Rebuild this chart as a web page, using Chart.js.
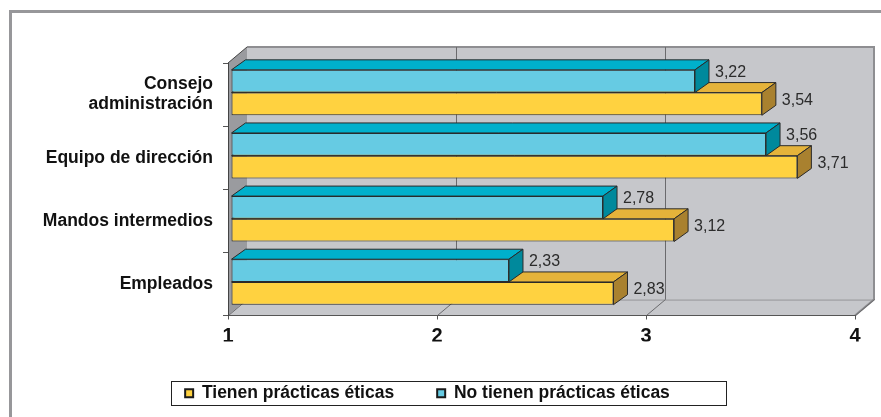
<!DOCTYPE html>
<html lang="es">
<head>
<meta charset="utf-8">
<title>Prácticas éticas por nivel</title>
<script src="https://cdn.jsdelivr.net/npm/chart.js@4.4.1/dist/chart.umd.min.js"></script>
<style>
  html, body { margin: 0; padding: 0; background: #fff; overflow: hidden; }
  #wrap { position: relative; width: 881px; height: 417px; }
  #marco { position: absolute; left: 9px; top: 10px; width: 900px; height: 430px;
           border-top: 3px solid #97979a; border-left: 3px solid #97979a; }
  canvas { position: absolute; left: 0; top: 0; }
</style>
</head>
<body>
<div id="wrap">
  <div id="marco"></div>
  <canvas id="grafico" width="881" height="417"></canvas>
</div>
<script>
  // ---- datos ----
  const categorias = [['Consejo', 'administración'], 'Equipo de dirección', 'Mandos intermedios', 'Empleados'];
  const tienen = [3.54, 3.71, 3.12, 2.83];
  const noTienen = [3.22, 3.56, 2.78, 2.33];
  const ticksX = [1, 2, 3, 4];

  const FUENTE = '"Liberation Sans", Arial, sans-serif';

  // colores: frente, tapa, lateral
  const CIAN = ['#66cbe3', '#00b0cc', '#00899c'];
  const AMARILLO = ['#ffd240', '#e5b33a', '#a9812f'];

  const FONDO = { dx: 19, dy: -16 };                // profundidad de paredes
  const BARRA = { dx: 14, dy: -10, sx: 3, sy: -2 }; // profundidad y desplazamiento de barras
  const desfaseEtiqueta = [-9, -3.5];               // por dataset (cian, amarillo)

  function poly(ctx, pts, fill, stroke) {
    ctx.beginPath();
    ctx.moveTo(pts[0][0], pts[0][1]);
    for (let i = 1; i < pts.length; i++) ctx.lineTo(pts[i][0], pts[i][1]);
    ctx.closePath();
    if (fill) { ctx.fillStyle = fill; ctx.fill(); }
    if (stroke) { ctx.strokeStyle = stroke; ctx.lineWidth = 1; ctx.stroke(); }
  }

  /* ============================================
     CAJA 3D + CARAS DE BARRAS + ETIQUETAS
     ============================================ */
  const caja3d = {
    id: 'caja3d',
    beforeDraw(chart) {
      const { ctx, chartArea: a } = chart;
      const x = chart.scales.x;
      const { dx, dy } = FONDO;
      ctx.save();
      // pared del fondo
      ctx.fillStyle = '#c6c7cb';
      ctx.fillRect(a.left + dx, a.top + dy, a.right - a.left, a.bottom - a.top);
      // suelo
      poly(ctx, [[a.left, a.bottom], [a.left + dx, a.bottom + dy], [a.right + dx, a.bottom + dy], [a.right, a.bottom]], '#c6c7cb');
      // pared izquierda
      poly(ctx, [[a.left, a.top], [a.left + dx, a.top + dy], [a.left + dx, a.bottom + dy], [a.left, a.bottom]], '#9a9b9f');

      // bordes de la pared del fondo
      ctx.strokeStyle = '#8e8e91';
      ctx.lineWidth = 2;
      ctx.beginPath();
      ctx.moveTo(a.left + dx, a.top + dy);
      ctx.lineTo(a.right + dx, a.top + dy);
      ctx.lineTo(a.right + dx, a.bottom + dy);
      ctx.lineTo(a.right, a.bottom);
      ctx.stroke();
      ctx.lineWidth = 1;
      ctx.beginPath();
      ctx.moveTo(a.left + dx, a.bottom + dy + 0.5);
      ctx.lineTo(a.right + dx, a.bottom + dy + 0.5);
      ctx.stroke();

      // líneas de cuadrícula (fondo y suelo)
      ctx.strokeStyle = '#6a6a6d';
      ctx.lineWidth = 1;
      ticksX.forEach(v => {
        const px = Math.round(x.getPixelForValue(v)) + 0.5;
        ctx.beginPath();
        ctx.moveTo(px, a.bottom);
        ctx.lineTo(px + dx, a.bottom + dy);
        if (v > ticksX[0] && v < ticksX[ticksX.length - 1]) ctx.lineTo(px + dx, a.top + dy);
        ctx.stroke();
      });

      // arista superior de la pared izquierda
      ctx.strokeStyle = '#444';
      ctx.beginPath();
      ctx.moveTo(a.left, a.top);
      ctx.lineTo(a.left + dx, a.top + dy);
      ctx.stroke();
      ctx.restore();
    },
    beforeDatasetsDraw(chart) {
      chart.ctx.save();
      chart.ctx.translate(BARRA.sx, BARRA.sy);
    },
    afterDatasetDraw(chart, args) {
      const { ctx } = chart;
      const col = args.index === 0 ? CIAN : AMARILLO;
      const { dx, dy } = BARRA;
      args.meta.data.forEach(el => {
        const { x, y, base, height } = el.getProps(['x', 'y', 'base', 'height'], true);
        const top = y - height / 2, bot = y + height / 2;
        poly(ctx, [[base, top], [base + dx, top + dy], [x + dx, top + dy], [x, top]], col[1], '#2a2a2a');
        poly(ctx, [[x, top], [x + dx, top + dy], [x + dx, bot + dy], [x, bot]], col[2], '#2a2a2a');
      });
    },
    afterDatasetsDraw(chart) {
      const { ctx } = chart;
      ctx.restore();
      ctx.save();
      ctx.font = '16px ' + FUENTE;
      ctx.fillStyle = '#2b2b2b';
      ctx.textAlign = 'left';
      ctx.textBaseline = 'middle';
      chart.data.datasets.forEach((ds, i) => {
        chart.getDatasetMeta(i).data.forEach((el, j) => {
          const texto = ds.data[j].toFixed(2).replace('.', ',');
          ctx.fillText(texto, el.x + BARRA.sx + 20, el.y + BARRA.sy + desfaseEtiqueta[i]);
        });
      });
      ctx.restore();
    },
    afterDraw(chart) {
      // recuadro de la leyenda
      const hb = chart.legend && chart.legend.legendHitBoxes;
      if (!hb || !hb.length) return;
      const { ctx } = chart;
      const ult = hb[hb.length - 1];
      const izq = Math.round(hb[0].left - 14) + 0.5;
      const der = Math.round(ult.left + ult.width + 56) + 0.5;
      const cy = hb[0].top + hb[0].height / 2;
      ctx.save();
      ctx.strokeStyle = '#222';
      ctx.lineWidth = 1;
      ctx.strokeRect(izq, Math.round(cy - 12) + 0.5, der - izq, 24);
      ctx.restore();
    }
  };

  new Chart(document.getElementById('grafico'), {
    type: 'bar',
    data: {
      labels: categorias,
      datasets: [
        { label: 'No tienen prácticas éticas', data: noTienen, backgroundColor: CIAN[0] },
        { label: 'Tienen prácticas éticas', data: tienen, backgroundColor: AMARILLO[0] }
      ]
    },
    options: {
      responsive: false,
      animation: false,
      devicePixelRatio: 1,
      indexAxis: 'y',
      layout: { padding: { top: 63, right: 26, bottom: 5, left: 0 } },
      datasets: {
        bar: {
          base: 1,
          categoryPercentage: 0.72,
          barPercentage: 1,
          borderWidth: 1,
          borderColor: '#2a2a2a',
          borderSkipped: false,
          clip: false
        }
      },
      plugins: {
        legend: {
          position: 'bottom',
          reverse: true,
          labels: {
            boxWidth: 8,
            boxHeight: 8,
            padding: 43,
            color: '#111',
            font: { family: FUENTE, size: 17.5, weight: 'bold' },
            // cuadrito con borde grueso oscuro
            generateLabels: chart => Chart.defaults.plugins.legend.labels.generateLabels(chart)
              .map(it => Object.assign(it, { lineWidth: 2, strokeStyle: '#1a1a1a' }))
          }
        },
        tooltip: { enabled: false }
      },
      scales: {
        x: {
          min: 1,
          max: 4,
          ticks: {
            stepSize: 1,
            color: '#111',
            padding: 5,
            font: { family: FUENTE, size: 20, weight: 'bold' }
          },
          grid: { drawOnChartArea: false, drawTicks: true, tickLength: 4, color: '#555' },
          border: { color: '#555' },
          afterFit: s => { s.height = 26; }
        },
        y: {
          ticks: {
            color: '#111',
            padding: 10,
            font: { family: FUENTE, size: 17.5, weight: 'bold', lineHeight: 1.15 }
          },
          grid: { offset: true, drawOnChartArea: false, tickLength: 5, color: '#555' },
          border: { color: '#444' },
          afterFit: s => { s.width = 228; }
        }
      }
    },
    plugins: [caja3d]
  });
</script>
</body>
</html>
